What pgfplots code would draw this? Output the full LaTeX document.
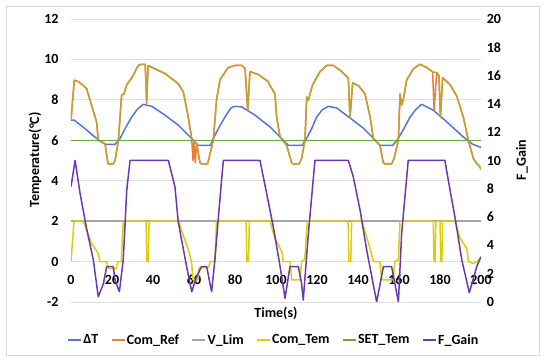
\documentclass[border=0pt]{standalone}
\usepackage{pgfplots}
\pgfplotsset{compat=1.18}
\usepackage{fontspec}
\setmainfont{Carlito}
\definecolor{cDT}{HTML}{5277D4}
\definecolor{cRef}{HTML}{ED7D31}
\definecolor{cGold}{HTML}{C4A032}
\definecolor{cLim}{HTML}{A5A5A5}
\definecolor{cTem}{HTML}{D8CE0A}
\definecolor{cSet}{HTML}{6BA641}
\definecolor{cGain}{HTML}{6B38AE}
\definecolor{cGrid}{HTML}{DDDDDD}
\definecolor{cBorder}{HTML}{D9D9D9}
\newcommand\lbl{\fontsize{14}{16}\selectfont\bfseries}
\begin{document}
\begin{tikzpicture}
\useasboundingbox (0pt,0pt) rectangle (550pt,363pt);
\draw[cBorder, line width=0.8pt] (6pt,8pt) rectangle (539pt,357pt);
\begin{axis}[
  at={(71pt,61pt)}, anchor=south west, scale only axis,
  width=410pt, height=283pt,
  xmin=0, xmax=200, ymin=-2, ymax=12,
  xtick={0,20,...,200}, ytick={-2,0,...,12},
  ymajorgrids, grid style={cGrid, line width=0.75pt},
  axis line style={draw=none}, major tick length=0pt,
  xtick pos=bottom, ytick pos=left,
  tick label style={font=\lbl},
  /pgf/number format/assume math mode=true,
  xticklabel style={anchor=base, yshift=17.5pt},
  yticklabel style={xshift=-9pt},
  legend columns=6,
  legend style={at={(0.494,-0.134)}, anchor=center, draw=none, fill=none,
    font=\lbl, inner sep=0pt,
    nodes={inner sep=1.5pt},
    /tikz/every even column/.append style={column sep=11pt}},
  legend image code/.code={\draw[#1] (0pt,0pt) -- (13pt,0pt);},
  every axis plot/.append style={line width=1.5pt, line join=round},
]
% Delta T
\addplot[cDT, no marks] coordinates {
(0,7.0)(1.5,7.0)(4,6.8)(6.8,6.58)(10,6.3)(13.3,6.03)(16.6,5.8)(21.5,5.8)(23.9,6.08)(26.5,6.6)(29.6,7.15)(32.5,7.55)(35.3,7.78)(39.4,7.68)(45.9,7.24)(52.4,6.74)(58.9,6.08)(62,5.75)(68,5.75)(69.4,6.08)(72,6.6)(75.1,7.15)(78,7.6)(80,7.68)(83.3,7.65)(89.8,7.24)(97.1,6.66)(102,6.16)(106,5.75)(112.7,5.75)(115,6.1)(117.5,6.6)(119.8,7.15)(122.5,7.5)(125.5,7.68)(129.6,7.6)(136.1,7.1)(142.6,6.6)(147.5,6.1)(150.7,5.75)(157,5.75)(159.6,6.08)(162.5,6.6)(165.4,7.15)(168,7.5)(171,7.78)(176.7,7.49)(183.3,6.91)(191.4,6.16)(196,5.8)(200,5.65)
};
\addlegendentry{ΔT}
% Com_Ref
\addplot[cRef, no marks] coordinates {
(0,7.0)(1.6,8.97)(3.6,8.9)(5.5,8.75)(7.6,8.56)(9.3,7.98)(12.5,6.9)(13.3,6.0)(16.6,5.83)(17.9,4.93)(18.2,4.83)(20.6,4.83)(21.5,5.0)(23.1,6.0)(24.7,8.23)(25.9,8.3)(27.2,8.75)(29.6,9.08)(32.8,9.7)(34.5,9.76)(36.2,9.76)(36.9,7.8)(37.6,9.7)(40.2,9.57)(45.9,9.3)(52.3,8.8)(54.8,8.39)(57.2,7.15)(58.9,6.08)(59.5,5.0)(60.0,5.9)(60.6,4.9)(61.3,5.84)(62.9,4.9)(63.7,4.83)(66.6,4.83)(67.3,5.1)(69.4,6.0)(71,8.0)(72.7,9.0)(76.7,9.6)(80,9.7)(83.3,9.7)(84.9,9.55)(86.2,7.5)(87.3,9.4)(91.4,9.25)(96.2,8.9)(97.1,8.7)(99.5,8.3)(100.3,7.15)(102,6.16)(105.2,5.75)(107.6,4.9)(108.4,4.83)(111.3,4.83)(112.5,5.1)(114.1,6.0)(115,8.14)(115.8,7.98)(116.6,8.3)(117.9,8.75)(121.5,9.4)(124.7,9.7)(128,9.7)(132,9.4)(135.3,9.08)(136.1,7.1)(137.4,8.85)(140.2,8.7)(143.4,8.3)(145.9,7.15)(147.5,6.08)(150.7,5.75)(152.3,4.9)(153,4.83)(156.4,4.83)(157.6,5.1)(159.7,6.0)(160.5,8.3)(161.3,7.74)(162.1,8.0)(163.7,8.97)(167,9.53)(170.2,9.76)(173.5,9.6)(176.4,9.38)(177.1,7.5)(178.4,9.35)(179.5,9.2)(180.2,7.15)(181.3,9.1)(184.9,8.75)(188.1,8.2)(191.4,7.15)(193.8,6.0)(196.3,5.1)(197.9,4.85)(199,4.75)(200,4.57)
};
\addlegendentry{Com\_Ref}
\addplot[cGold, no marks, forget plot] coordinates {
(0,7.0)(1.6,8.97)(3.6,8.9)(5.5,8.75)(7.6,8.56)(9.3,7.98)(12.5,6.9)(13.3,6.0)(16.6,5.83)(17.9,4.93)(18.2,4.83)(20.6,4.83)(21.5,5.0)(23.1,6.0)(24.7,8.23)(25.9,8.3)(27.2,8.75)(29.6,9.08)(32.8,9.7)(34.5,9.76)(36.2,9.76)(36.9,8.0)(37.6,9.7)(40.2,9.57)(45.9,9.3)(52.3,8.8)(54.8,8.39)(57.2,7.15)(58.9,6.08)(61.3,5.84)(62.9,4.9)(63.7,4.83)(66.6,4.83)(67.3,5.1)(69.4,6.0)(71,8.0)(72.7,9.0)(76.7,9.6)(80,9.7)(83.3,9.7)(84.9,9.55)(86.2,7.5)(87.3,9.4)(91.4,9.25)(96.2,8.9)(97.1,8.7)(99.5,8.3)(100.3,7.15)(102,6.16)(105.2,5.75)(107.6,4.9)(108.4,4.83)(111.3,4.83)(112.5,5.1)(114.1,6.0)(115,8.14)(115.8,7.98)(116.6,8.3)(117.9,8.75)(121.5,9.4)(124.7,9.7)(128,9.7)(132,9.4)(135.3,9.08)(136.1,7.1)(137.4,8.85)(140.2,8.7)(143.4,8.3)(145.9,7.15)(147.5,6.08)(150.7,5.75)(152.3,4.9)(153,4.83)(156.4,4.83)(157.6,5.1)(159.7,6.0)(160.5,8.3)(161.3,7.74)(162.1,8.0)(163.7,8.97)(167,9.53)(170.2,9.76)(173.5,9.6)(176.4,9.38)(178.4,9.35)(179.5,9.2)(180.2,7.15)(181.3,9.1)(184.9,8.75)(188.1,8.2)(191.4,7.15)(193.8,6.0)(196.3,5.1)(197.9,4.85)(199,4.75)(200,4.57)
};
% V_Lim
\addplot[cLim, no marks] coordinates {(0,2)(200,2)};
\addlegendentry{V\_Lim}
% Com_Tem
\addplot[cTem, no marks] coordinates {
(0,0)(1.5,2)(6,2)(8.5,1.3)(10.1,0.9)(13.3,0.41)(14.1,0)(17.4,0)(18.2,-0.35)(22,-0.35)(22.8,0)(24.5,0)(25.5,2)(36.6,2)(37,0)(37.7,0)(38.1,2)(52.4,2)(54.8,1.3)(57.2,0.6)(58.8,0)(59.5,-0.9)(62,-0.9)(62.5,-0.3)(67,-0.3)(68,0)(70.2,0)(71,2)(85.4,2)(85.8,0)(86.6,0)(87,2)(97.1,2)(99.5,1.15)(102.8,0.5)(103.6,0)(106.9,0)(107.6,-0.9)(111.7,-0.9)(112.5,0)(114,0.1)(115.3,2)(135.2,2)(135.6,0)(136.5,0)(136.9,2)(141.8,2)(145.9,0.66)(147.5,0)(150.7,0)(151.6,-0.9)(157.2,-0.9)(158,0)(159.7,0.1)(160.5,2)(176.7,2)(177.1,0)(177.6,0)(178,2)(180,2)(180.4,0)(180.9,0)(181.3,2)(187.3,2)(189.8,1.15)(193,0.66)(193.9,0)(196.3,-0.1)(198,0)(200,0.2)
};
\addlegendentry{Com\_Tem}
% SET_Tem
\addplot[cSet, no marks] coordinates {(0,6)(200,6)};
\addlegendentry{SET\_Tem}
\addlegendimage{cGain, line width=1.5pt}
\addlegendentry{F\_Gain}
\end{axis}
\begin{axis}[
  at={(71pt,61pt)}, anchor=south west, scale only axis,
  width=410pt, height=283pt,
  xmin=0, xmax=200, ymin=0, ymax=20,
  axis x line=none, axis y line*=right,
  ytick={0,2,...,20},
  axis line style={draw=none}, major tick length=0pt,
  tick label style={font=\lbl},
  /pgf/number format/assume math mode=true,
  yticklabel style={xshift=2.3pt},
  every axis plot/.append style={line width=1.5pt, line join=round},
]
\addplot[cGain, no marks] coordinates {
(0,8.15)(2,10.0)(4.4,7.7)(7.6,5.2)(10.9,2.97)(13.3,0.37)(15.8,1.3)(17.4,2.5)(20.6,2.5)(21.5,1.55)(23.6,0.73)(25.5,3.0)(27.2,7.9)(28.8,10)(47.5,10)(50.7,8.15)(52.3,5.67)(56.4,2.5)(58.9,0.73)(61.3,1.8)(63.7,2.5)(66.2,2.5)(67.8,1.3)(68.6,0.73)(70.2,3.0)(71.9,6.0)(74.3,10)(92.2,10)(95.4,7.7)(98.7,5.3)(102,2.5)(104.4,0.26)(106.8,2.5)(110.9,2.5)(112.5,1.3)(113.3,0.14)(115.8,4.85)(119,10)(135.3,10)(137.7,8.85)(141,6.5)(144.2,3.7)(149.1,0)(152.4,2.5)(156.4,2.5)(158,1.3)(159.7,0)(161.3,4.85)(164.5,10)(182.4,10)(184.9,7.9)(187.3,6.0)(190.6,3.0)(194.3,0.66)(196.3,1.67)(197.9,2.5)(200,3.2)
};
\end{axis}
\node[font=\lbl] at (276pt,50pt) {Time(s)};
\node[font=\lbl, rotate=90] at (35pt,203pt) {Temperature(°C)};
\node[font=\lbl, rotate=90] at (522pt,203pt) {F\_Gain};
\end{tikzpicture}
\end{document}
